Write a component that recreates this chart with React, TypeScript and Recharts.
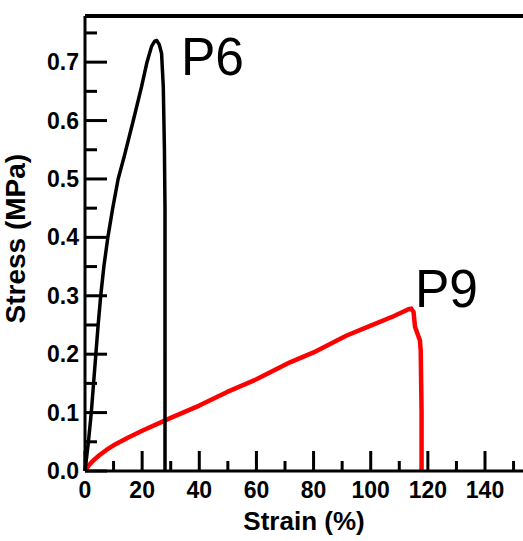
import { LineChart, Line, XAxis, YAxis, ReferenceLine, ReferenceDot } from "recharts";

// strain (%) / stress (MPa)
const p6Strain = [0, 1.2, 2.2, 3.0, 3.8, 4.6, 5.5, 6.6, 8.0, 9.7, 11.6, 13.8, 16.9, 19.8, 21.6, 23.3, 24.4, 25.1, 26, 26.8, 27.4, 27.8, 28, 28, 28];
const p6Stress = [0, 0.05, 0.1, 0.15, 0.2, 0.25, 0.3, 0.35, 0.4, 0.45, 0.5, 0.54, 0.6, 0.658, 0.698, 0.727, 0.736, 0.737, 0.73, 0.715, 0.658, 0.55, 0.45, 0.2, 0];

const p9Strain = [0, 1.2, 2.5, 5, 7.5, 10, 15, 20, 30, 40, 49.6, 60, 71.75, 80, 91.6, 100, 108, 113.2, 114.2, 115, 115.5, 117.2, 117.5, 117.8, 117.8];
const p9Stress = [0, 0.009, 0.016, 0.027, 0.036, 0.044, 0.057, 0.069, 0.091, 0.112, 0.135, 0.157, 0.186, 0.203, 0.232, 0.249, 0.265, 0.277, 0.278, 0.272, 0.247, 0.224, 0.207, 0.1, 0];

const xTicks = [0, 10, 20, 30, 40, 50, 60, 70, 80, 90, 100, 110, 120, 130, 140, 150];
const yTicks = [0, 0.05, 0.1, 0.15, 0.2, 0.25, 0.3, 0.35, 0.4, 0.45, 0.5, 0.55, 0.6, 0.65, 0.7, 0.75];

const X_MAX = 153.3;
const Y_MAX = 0.779;

const p6 = p6Strain.map((s, i) => ({ strain: s, stress: p6Stress[i] }));
const p9 = p9Strain.map((s, i) => ({ strain: s, stress: p9Stress[i] }));

const FONT = "Liberation Sans, Arial, sans-serif";

const isMajorX = (v: number) => v % 20 === 0;
const isMajorY = (v: number) => Math.round(v * 20) % 2 === 0;

// inward tick marks + bold labels
const renderXTick = (props: any) => {
  const { x, y, payload } = props;
  const v = payload.value;
  const len = isMajorX(v) ? 20 : 10;
  return (
    <g key={`xt-${v}`}>
      <rect x={x - 1.5} y={y - len} width={3} height={len} fill="#000" />
      {isMajorX(v) && (
        <text x={x} y={y + 27} textAnchor="middle" fontFamily={FONT} fontWeight="bold" fontSize={23} fill="#000">
          {v}
        </text>
      )}
    </g>
  );
};

const renderYTick = (props: any) => {
  const { x, y, payload } = props;
  const v = payload.value;
  const len = isMajorY(v) ? 22 : 12;
  return (
    <g key={`yt-${v}`}>
      <rect x={x} y={y - 1.5} width={len} height={3} fill="#000" />
      {isMajorY(v) && (
        <text x={x - 6} y={y + 8} textAnchor="end" fontFamily={FONT} fontWeight="bold" fontSize={23} fill="#000">
          {v.toFixed(1)}
        </text>
      )}
    </g>
  );
};

const bigLabel = (value: string) => ({
  value,
  position: "right" as const,
  offset: 0,
  fontSize: 54,
  fontFamily: FONT,
  fill: "#000",
  textLength: 63,
  lengthAdjust: "spacingAndGlyphs",
});

export default function App() {
  return (
    <div style={{ position: "absolute", left: 0, top: 0, background: "#fff" }}>
      <LineChart width={523} height={541} margin={{ top: 16, right: 0, left: 0, bottom: 0 }}>
        <XAxis
          dataKey="strain"
          type="number"
          domain={[0, X_MAX]}
          ticks={xTicks}
          interval={0}
          height={70}
          tickSize={0}
          tickMargin={0}
          tickLine={false}
          axisLine={{ stroke: "#000", strokeWidth: 3 }}
          tick={renderXTick}
          label={{
            value: "Strain (%)",
            position: "insideBottom",
            offset: 11,
            fontFamily: FONT,
            fontWeight: "bold",
            fontSize: 26,
            fill: "#000",
          }}
        />
        <YAxis
          dataKey="stress"
          type="number"
          domain={[0, Y_MAX]}
          ticks={yTicks}
          interval={0}
          width={85}
          tickSize={0}
          tickMargin={0}
          tickLine={false}
          axisLine={{ stroke: "#000", strokeWidth: 3 }}
          tick={renderYTick}
          label={{
            value: "Stress (MPa)",
            angle: -90,
            position: "insideLeft",
            offset: 15,
            dy: 80,
            fontFamily: FONT,
            fontWeight: "bold",
            fontSize: 28,
            fill: "#000",
          }}
        />
        <ReferenceLine y={Y_MAX} stroke="#000" strokeWidth={4} />
        <Line
          data={p9}
          dataKey="stress"
          type="linear"
          stroke="#ff0000"
          strokeWidth={4.5}
          strokeLinejoin="round"
          dot={false}
          isAnimationActive={false}
        />
        <Line
          data={p6}
          dataKey="stress"
          type="linear"
          stroke="#000"
          strokeWidth={3.5}
          strokeLinejoin="round"
          dot={false}
          isAnimationActive={false}
        />
        <ReferenceDot x={33.6} y={0.711} r={0} stroke="none" fill="none" label={bigLabel("P6")} />
        <ReferenceDot x={115.5} y={0.313} r={0} stroke="none" fill="none" label={bigLabel("P9")} />
      </LineChart>
    </div>
  );
}
